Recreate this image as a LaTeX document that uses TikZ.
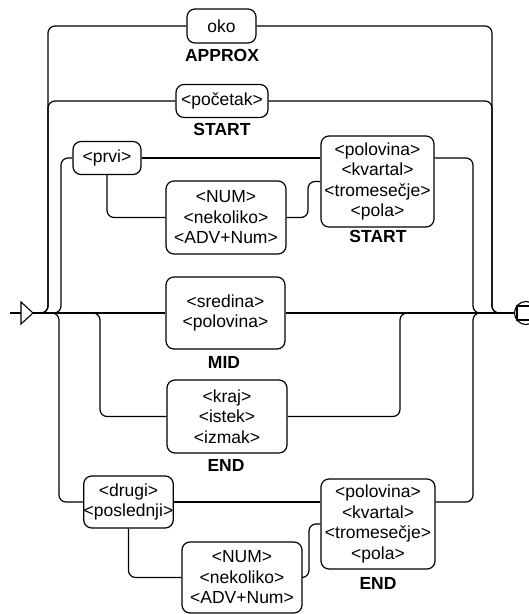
\documentclass[tikz,border=0pt]{standalone}
\usepackage{fontspec}
\setmainfont{Liberation Sans}
\begin{document}
\begin{tikzpicture}[x=1pt,y=-1pt,line width=1.2pt,
  box/.style={draw,rounded corners=8pt,inner sep=0pt,align=center,
    font=\fontsize{17.5}{20.5}\selectfont},
  lbl/.style={inner sep=0pt,font=\fontsize{17.5}{20}\selectfont\bfseries},
  wire/.style={draw,rounded corners=7pt}]
\useasboundingbox (0,0) rectangle (529,614);

% alternatives
\node[box,minimum width=69pt,minimum height=34pt] (oko) at (221.5,26) {oko};
\node[lbl] (lapprox) at (222,55) {APPROX};
\node[box,minimum width=92pt,minimum height=33pt] (pocetak) at (222,101) {<početak>};
\node[lbl] (lstart1) at (222,129) {START};
\node[box,minimum width=68pt,minimum height=33pt] (prvi) at (107,158) {<prvi>};
\node[box,minimum width=120pt,minimum height=73pt] (numa) at (226,217.5) {<NUM>\\<nekoliko>\\<ADV+Num>};
\node[box,minimum width=113pt,minimum height=91pt] (pola) at (377.5,181.5) {<polovina>\\<kvartal>\\<tromesečje>\\<pola>};
\node[lbl] (lstart2) at (378,236) {START};
\node[box,minimum width=119pt,minimum height=72pt] (sred) at (225.5,313) {<sredina>\\<polovina>};
\node[lbl] (lmid) at (224,362) {MID};
\node[box,minimum width=120pt,minimum height=73pt] (kraj) at (227,416.5) {<kraj>\\<istek>\\<izmak>};
\node[lbl] (lend1) at (226,465) {END};
\node[box,minimum width=89pt,minimum height=52pt] (drugi) at (128.5,502) {<drugi>\\<poslednji>};
\node[box,minimum width=120pt,minimum height=71pt] (numb) at (242,577.5) {<NUM>\\<nekoliko>\\<ADV+Num>};
\node[box,minimum width=114pt,minimum height=90pt] (polb) at (378,524) {<polovina>\\<kvartal>\\<tromesečje>\\<pola>};
\node[lbl] (lend2) at (378,583) {END};

% entry and exit markers
\coordinate (in) at (33,313);
\coordinate (out) at (514.5,313);
\draw (10,313) -- (21,313);
\draw[line width=1.1pt] (21,302) -- (33,313) -- (21,324) -- cycle;
\draw[line width=1.1pt] (526,313) circle (11.5);
\draw[line width=1.1pt] (533,306) -- (517,306) -- (517,320) -- (533,320);

% main track
\draw (in) -- (sred.west);
\draw (sred.east) -- (out);

% branches leaving the main track
\path[wire] (in) -- (48,313) -- (48,26) -- (oko.west);
\path[wire] (in) -- (48,313) -- (48,101) -- (pocetak.west);
\path[wire] (in) -- (61,313) -- (61,158) -- (prvi.west);
\path[wire] (in) -- (59,313) -- (59,502) -- (drugi.west);
\path[wire] (in) -- (100,313) -- (100,416.5) -- (kraj.west);

% inner connections
\draw (prvi.east) -- (pola.west |- prvi.east);
\path[wire] (prvi.south) -- (107,217.5) -- (numa.west);
\path[wire] (numa.east) -- (308,217.5) -- (308,181.5) -- (pola.west);
\draw (drugi.east) -- (polb.west |- drugi.east);
\path[wire] (drugi.south) -- (128.5,577.5) -- (numb.west);
\path[wire] (numb.east) -- (309,577.5) -- (309,524) -- (polb.west);

% branches rejoining the main track
\path[wire] (oko.east) -- (492,26) -- (492,313) -- (out);
\path[wire] (pocetak.east) -- (492,101) -- (492,313) -- (out);
\path[wire] (pola.east |- prvi.east) -- (473,158) -- (473,313) -- (out);
\path[wire] (polb.east |- drugi.east) -- (473,502) -- (473,313) -- (out);
\path[wire] (kraj.east) -- (400,416.5) -- (400,313) -- (out);
\end{tikzpicture}
\end{document}
